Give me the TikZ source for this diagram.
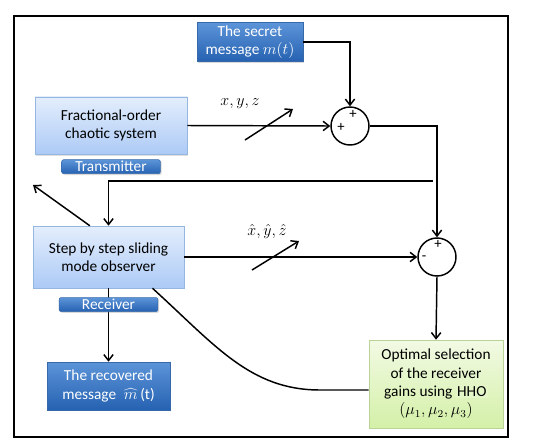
\documentclass[tikz,border=0pt]{standalone}
\usepackage{fontspec}
\setmainfont{Carlito}
\usetikzlibrary{positioning, arrows.meta, shadows}
\definecolor{darktop}{RGB}{92, 148, 216}
\definecolor{darkbot}{RGB}{38, 98, 178}
\definecolor{darkedge}{RGB}{55, 105, 170}
\definecolor{palemtop}{RGB}{228, 238, 252}
\definecolor{palebot}{RGB}{172, 202, 246}
\definecolor{paleedge}{RGB}{150, 182, 226}
\definecolor{greentop}{RGB}{242, 250, 228}
\definecolor{greenbot}{RGB}{212, 240, 168}
\definecolor{greenedge}{RGB}{185, 212, 150}
\definecolor{hhofill}{RGB}{228, 246, 200}
\tikzset{
  flow/.style={-{Straight Barb[length=4.5pt, width=7pt]}, line width=1.1pt},
  wire/.style={line width=1.1pt},
  sumnode/.style={circle, draw, line width=1.1pt, minimum size=28.5pt, inner sep=0pt},
  sign/.style={font=\fontsize{11}{11}\selectfont, inner sep=0pt}
}

\begin{document}
\begin{tikzpicture}[
    x=0.75pt, y=-0.75pt,
    font=\fontsize{11.5}{13.75}\selectfont,
    lightbox/.style={
        draw=paleedge, top color=palemtop, bottom color=palebot,
        align=center, inner sep=2pt,
        drop shadow={opacity=0.25, shadow xshift=1pt, shadow yshift=-1pt}
      },
    darkbox/.style={
        draw=darkedge, top color=darktop, bottom color=darkbot,
        text=white, align=center, inner sep=2pt,
        drop shadow={opacity=0.3, shadow xshift=1pt, shadow yshift=-1pt}
      },
    greenbox/.style={
        draw=greenedge, top color=greentop, bottom color=greenbot,
        align=center, inner sep=2pt,
        drop shadow={opacity=0.25, shadow xshift=1pt, shadow yshift=-1pt}
      },
    tag/.style={darkbox, rounded corners=1.5pt, inner sep=0pt,
        minimum width=74pt, minimum height=10.5pt}
  ]
  \useasboundingbox (0,0) rectangle (536,447);
  \draw[line width=1.5pt] (14,16) rectangle (508,437);

  \node[darkbox, minimum width=79.5pt, minimum height=29pt] (secret) at (250,42)
  {The secret\\message $m(t)$};
  \node[lightbox, minimum width=114pt, minimum height=43pt] (frac) at (111,125.5)
  {Fractional-order\\chaotic system};
  \node[lightbox, minimum width=113pt, minimum height=46.5pt] (obs) at (108.5,257)
  {Step by step sliding\\mode observer};
  \node[darkbox, minimum width=92pt, minimum height=36pt] (rec) at (108.5,386)
  {The recovered\\message\; $\widehat{m}\,$(t)};
  \node[greenbox, minimum width=100.5pt, minimum height=66pt] (hho) at (436,384)
  {Optimal selection\\of the receiver\\gains using \setlength{\fboxsep}{1pt}\colorbox{hhofill}{HHO}\\$(\mu_1,\mu_2,\mu_3)$};

  \node[sumnode] (c1) at (350,126) {};
  \node[sumnode] (c2) at (437,257) {};
  \node[sign] at (353,114) {+};
  \node[sign] at (341,127) {+};
  \node[sign] at (438,244) {+};
  \node[sign] at (424,258) {-};

  \coordinate (tap) at (433,181);
  \coordinate (stray) at (33,185);
  \coordinate (xa) at (245,140);
  \coordinate (xb) at (293,109);
  \coordinate (ha) at (252,270);
  \coordinate (hb) at (299,241);

  \draw[flow] (secret.east) -| (c1.north);
  \draw[flow] (frac.east) -- (c1.west);
  \draw[flow] (c1.east) -| (c2.north);
  \draw[flow] (tap) -| (obs.north);
  \draw[flow] (obs.east) -- (c2.west);
  \draw[flow] (c2.south) -- (hho.north);
  \draw[flow] (obs.south) -- (rec.north);
  \draw[flow] ([xshift=-14pt]obs.north) -- (stray);
  \draw[wire] ([xshift=33pt]obs.south) .. controls (215,345) and (250,390) .. (320,390)
    -- (hho.west |- 0,390);

  \draw[flow] (xa) -- (xb);
  \node at (240,104) {$x, y, z$};
  \draw[flow] (ha) -- (hb);
  \node at (267,231) {$\hat{x}, \hat{y}, \hat{z}$};

  \node[tag, below=3.75pt of frac] (tx) {Transmitter};
  \node[tag, below=6.75pt of obs] (rx) {Receiver};

\end{tikzpicture}
\end{document}
